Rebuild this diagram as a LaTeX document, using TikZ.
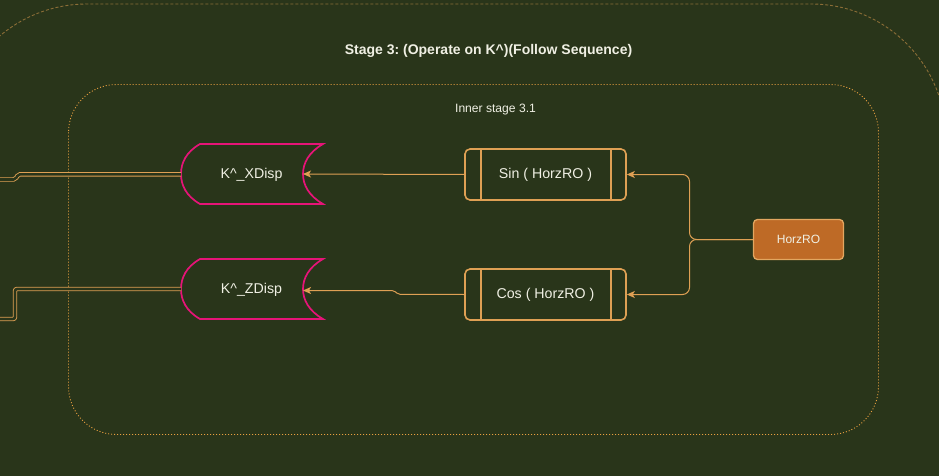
\documentclass[tikz,border=0pt]{standalone}
\usepackage{fontspec}
\setmainfont{Liberation Sans}
\usetikzlibrary{arrows.meta,calc}
\definecolor{bgc}{RGB}{41,53,26}
\definecolor{tan}{RGB}{222,160,84}
\definecolor{outerc}{RGB}{140,110,55}
\definecolor{dotc}{RGB}{232,160,64}
\definecolor{mag}{RGB}{230,20,120}
\definecolor{txt}{RGB}{240,240,228}
\definecolor{horzfill}{RGB}{190,106,38}
\definecolor{horzline}{RGB}{226,166,96}
\tikzset{
  lbl/.style={text=txt,font=\fontsize{14.2}{16}\selectfont,inner sep=0pt},
  dispshape/.style={draw=mag,line width=1.7pt,line join=miter},
  procbox/.style={draw=tan,line width=1.6pt,rounded corners=5pt,minimum width=161pt,minimum height=51pt,inner sep=0pt,text=txt,font=\fontsize{14.2}{16}\selectfont},
  conn/.style={draw=tan,line width=1pt,-{Stealth[length=8pt,width=7pt,inset=2pt]}},
  dbl/.style={draw=tan,line width=0.9pt,double=bgc,double distance=2.6pt,rounded corners=2pt},
}
\begin{document}
\frenchspacing
\begin{tikzpicture}[x=1pt,y=-1pt]
\fill[bgc] (0,0) rectangle (939,476);
\useasboundingbox (0,0) rectangle (939,476);
% outer frame
\draw[outerc,line width=0.9pt,dash pattern=on 3pt off 2pt,rounded corners=135pt] (-48,4) rectangle (946,620);
\node[text=txt,font=\bfseries\fontsize{14}{16}\selectfont] (title) at (488.5,50.5) {Stage 3: (Operate on K\^{})(Follow Sequence)};
% inner frame
\draw[dotc,line width=0.9pt,dash pattern=on 1pt off 2pt,rounded corners=48pt] (68.5,84.5) rectangle (878.5,434.5);
\node[text=txt,font=\fontsize{12.1}{14}\selectfont] (inner) at (495.5,109.5) {Inner stage 3.1};

% display shapes
\node[lbl,minimum width=142pt,minimum height=60pt] (xd) at (251.5,174.5) {K\^{}\_XDisp};
\draw[dispshape] (200,144) -- (323,144) .. controls (309,152) and (303,163) .. (303,174) .. controls (303,185) and (309,196) .. (323,204) -- (200,204) .. controls (186,196) and (181,185) .. (181,174) .. controls (181,163) and (186,152) .. cycle;
\coordinate (xdin) at (303,174);
\coordinate (xdout) at (181,174.3);

\node[lbl,minimum width=142pt,minimum height=60pt] (zd) at (251.5,289.5) {K\^{}\_ZDisp};
\draw[dispshape] (200,259) -- (323,259) .. controls (309,267) and (303,278) .. (303,289) .. controls (303,300) and (309,311) .. (323,319) -- (200,319) .. controls (186,311) and (181,300) .. (181,289) .. controls (181,278) and (186,267) .. cycle;
\coordinate (zdin) at (303,290.5);
\coordinate (zdout) at (181,289);

% process boxes
\node[procbox] (sin) at (545.5,174.5) {Sin ( HorzRO )};
\draw[tan,line width=1.6pt] ($(sin.north west)+(17,0)$) -- ($(sin.south west)+(17,0)$);
\draw[tan,line width=1.6pt] ($(sin.north east)+(-16,0)$) -- ($(sin.south east)+(-16,0)$);
\node[procbox] (cos) at (545.5,294.5) {Cos ( HorzRO )};
\draw[tan,line width=1.6pt] ($(cos.north west)+(17,0)$) -- ($(cos.south west)+(17,0)$);
\draw[tan,line width=1.6pt] ($(cos.north east)+(-16,0)$) -- ($(cos.south east)+(-16,0)$);

% HorzRO
\node[draw=horzline,fill=horzfill,line width=1.3pt,rounded corners=4pt,minimum width=90pt,minimum height=40pt,inner sep=0pt,text=txt,font=\fontsize{12}{14}\selectfont] (h) at (798.5,239.5) {HorzRO};

% connectors
\draw[conn,rounded corners=7pt] (h.west) -- (689.5,239.5) |- (sin.east);
\draw[conn,rounded corners=7pt] (h.west) -- (689.5,239.5) |- (cos.east);
\draw[conn] (sin.west) -- (xdin);
\draw[conn,rounded corners=2pt] (cos.west) -- (398,294.3) -- (394,290.5) -- (zdin);

% double links to the left
\coordinate (xl) at (0,179.5);
\coordinate (zl) at (0,319);
\draw[dbl] (xdout) -- (18,174.3) -- (15.5,179.5) -- (xl);
\draw[dbl] (zdout) -- (15,289) -- (15,319) -- (zl);
\end{tikzpicture}
\end{document}
